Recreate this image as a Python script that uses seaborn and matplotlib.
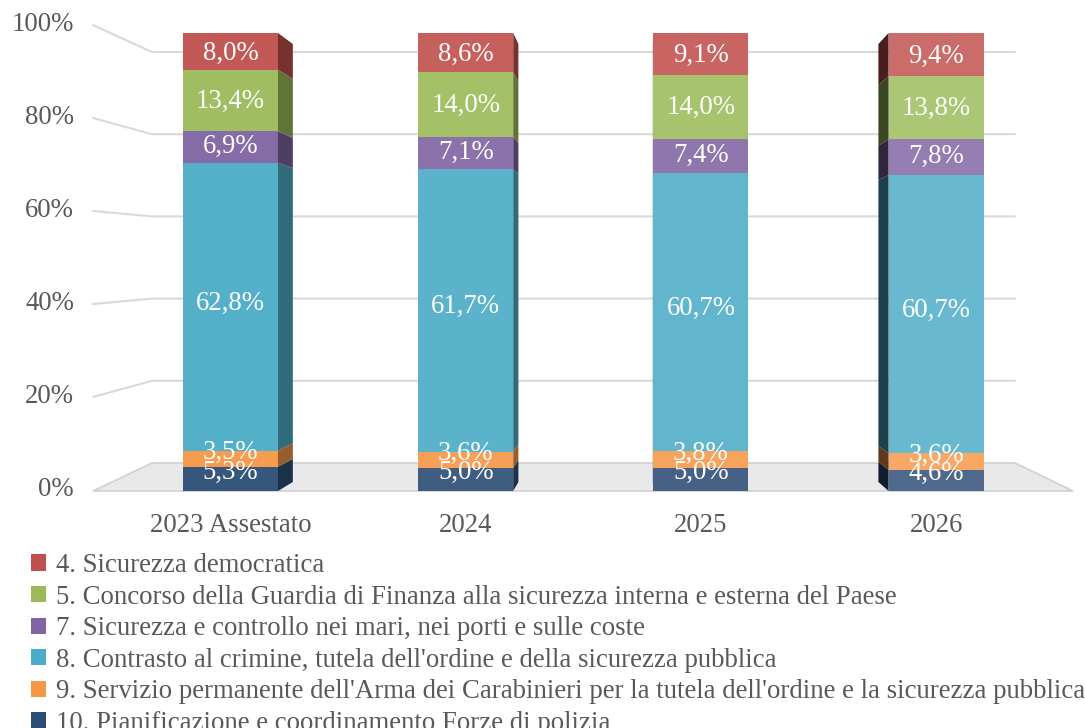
import numpy as np
import pandas as pd
import seaborn as sns
import matplotlib.pyplot as plt
from matplotlib.patches import Polygon, Patch
from matplotlib.colors import to_rgb

# -----------------------------
# data (shares in %, bottom of the stack is the last one)
# -----------------------------
years = ["2023 Assestato", "2024", "2025", "2026"]
programmi = [
    "4. Sicurezza democratica",
    "5. Concorso della Guardia di Finanza alla sicurezza interna e esterna del Paese",
    "7. Sicurezza e controllo nei mari, nei porti e sulle coste",
    "8. Contrasto al crimine, tutela dell'ordine e della sicurezza pubblica",
    "9. Servizio permanente dell'Arma dei Carabinieri per la tutela dell'ordine e la sicurezza pubblica",
    "10. Pianificazione e coordinamento Forze di polizia",
]
sicurezza_democratica = [8.0, 8.6, 9.1, 9.4]
guardia_finanza = [13.4, 14.0, 14.0, 13.8]
mari_porti_coste = [6.9, 7.1, 7.4, 7.8]
contrasto_crimine = [62.8, 61.7, 60.7, 60.7]
carabinieri = [3.5, 3.6, 3.8, 3.6]
pianificazione = [5.3, 5.0, 5.0, 4.6]
ytick_values = [0, 20, 40, 60, 80, 100]

series = [sicurezza_democratica, guardia_finanza, mari_porti_coste,
          contrasto_crimine, carabinieri, pianificazione]
colors = ["#C0504D", "#9BBB59", "#8064A2", "#4BACC6", "#F79646", "#2C4D75"]

# -----------------------------
# fake 3D geometry (pixel based)
# -----------------------------
W, H = 1085, 728
FRONT0, FRONT_PX = 491, 4.58    # front face of bars
BACK0, BACK_PX = 482, 4.38      # back face of bars
WALL0, WALL_PX = 463, 4.11      # back wall gridlines
LAB0, LAB_PX = 490, 4.65        # y tick labels / start of slanted lines
DLAB0, DLAB_PX = 484, 4.49      # data labels
X0, DX = 230.5, 235.2           # first bar centre, spacing
BAR_W = 95 / DX
VX = 640                        # vanishing x
DEPTH_K = 0.959
AX_BOTTOM = 505

GREY = "#595959"
GRID = "#d9d9d9"
FONT = "Liberation Serif"
FS = 19.3


def to_v(py):
    return (FRONT0 - py) / FRONT_PX


def to_x(px):
    return (px - X0) / DX


def mix(c, other, t):
    c = np.array(to_rgb(c))
    return tuple(c + (np.array(other) - c) * t)


sns.set_style("white")
plt.rcParams['font.family'] = [FONT, 'DejaVu Sans']

fig = plt.figure(figsize=(W / 100, H / 100), dpi=100)
ax = fig.add_axes([0, 1 - AX_BOTTOM / H, 1, AX_BOTTOM / H])

# back wall gridlines + slanted left part
for v in ytick_values:
    yw = to_v(WALL0 - WALL_PX * v)
    yl = to_v(LAB0 - LAB_PX * v)
    if v > 0:
        ax.plot([to_x(93), to_x(152), to_x(1015)], [yl, yw, yw],
                color=GRID, lw=1.5, zorder=1, clip_on=False)
    ax.text(to_x(74), yl, f"{v}%", ha="right", va="center",
            fontsize=FS, color=GREY, clip_on=False)

# floor
floor = Polygon([(to_x(93), to_v(491)), (to_x(152), to_v(463)),
                 (to_x(1015), to_v(463)), (to_x(1073), to_v(491))],
                closed=True, facecolor="#e9e9e9", edgecolor="#d0d0d0",
                lw=1.2, zorder=2, clip_on=False)
ax.add_patch(floor)

# stacked bars (100%)
totals = np.sum(np.array(series), axis=0)
bottom = np.zeros(len(years))
vx = to_x(VX)
lighten = [0.05, 0.09, 0.12, 0.16]
for name, vals, col in reversed(list(zip(programmi, series, colors))):
    share = np.array(vals) / totals * 100
    n_before = len(ax.patches)
    sns.barplot(x=years, y=share, color=col, bottom=bottom, width=BAR_W,
                saturation=1, linewidth=0, ax=ax, zorder=4)
    for i, p in enumerate(ax.patches[n_before:]):
        p.set_facecolor(mix(col, (1, 1, 1), lighten[i]))
    for i in range(len(years)):
        a, b = bottom[i], bottom[i] + share[i]
        # visible side face
        if i - BAR_W / 2 > vx:
            xe = i - BAR_W / 2
            side = mix(col, (0, 0, 0), 0.62)
        else:
            xe = i + BAR_W / 2
            side = mix(col, (0, 0, 0), 0.38)
        xb = vx + (xe - vx) * DEPTH_K
        ya = to_v(BACK0 - BACK_PX * a)
        yb = to_v(BACK0 - BACK_PX * b)
        ax.add_patch(Polygon([(xe, a), (xb, ya), (xb, yb), (xe, b)],
                             closed=True, facecolor=side, lw=0, zorder=3))
        mid = (a + b) / 2
        ax.text(i, to_v(DLAB0 - DLAB_PX * mid),
                f"{vals[i]:.1f}".replace(".", ",") + "%",
                ha="center", va="center", color="white", fontsize=FS, zorder=6)
    bottom = bottom + share

ax.set_xlim(to_x(0), to_x(W))
ax.set_ylim(to_v(AX_BOTTOM), to_v(0))
ax.set_yticks([])
ax.set_xlabel("")
ax.tick_params(axis="x", length=0, pad=6, labelsize=FS, labelcolor=GREY)
sns.despine(ax=ax, left=True, bottom=True)

handles = [Patch(facecolor=c, edgecolor="none") for c in colors]
fig.legend(handles, programmi, loc="upper left",
           bbox_to_anchor=(31 / W, 1 - 553 / H), frameon=False,
           fontsize=FS, labelcolor=GREY, handlelength=0.55, handleheight=0.55,
           handletextpad=0.4, labelspacing=0.245, borderpad=0, borderaxespad=0)

plt.savefig("out.png", dpi=100)
